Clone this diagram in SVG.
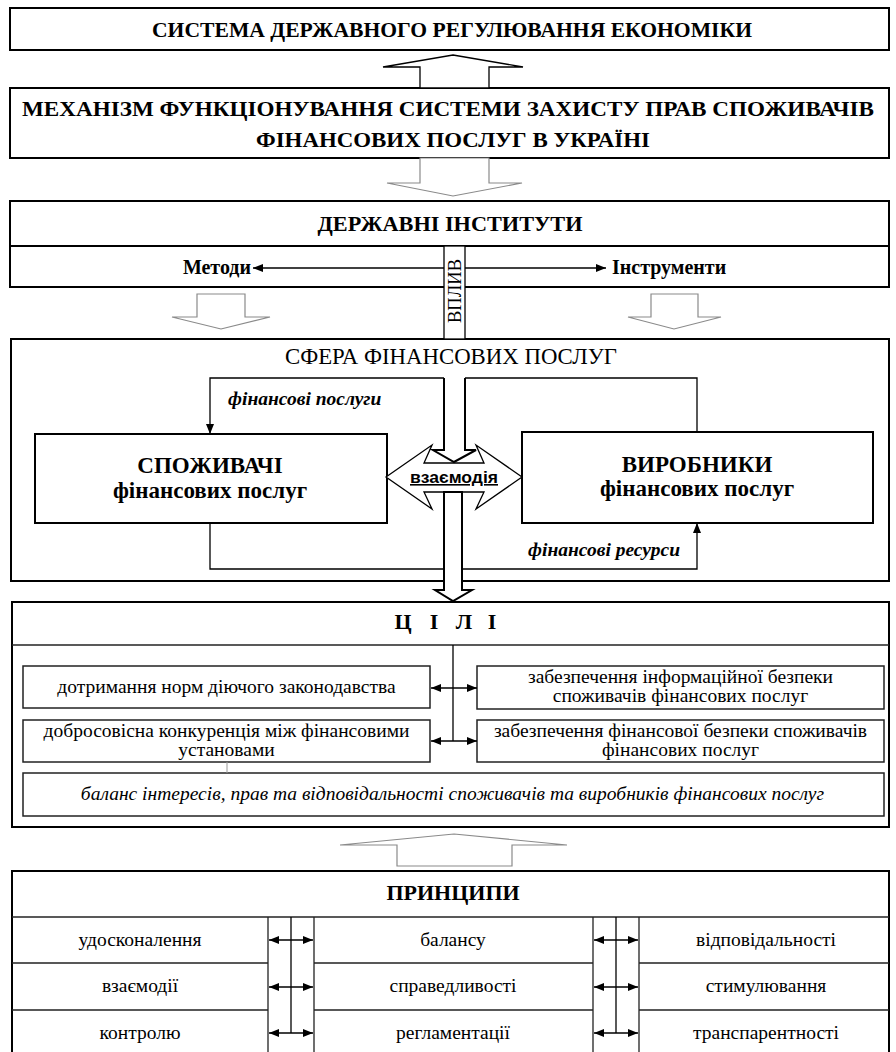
<svg xmlns="http://www.w3.org/2000/svg" width="896" height="1052" viewBox="0 0 896 1052">
<defs>
<marker id="ah" markerWidth="10" markerHeight="8" refX="10" refY="4" orient="auto-start-reverse" markerUnits="userSpaceOnUse"><path d="M0,0 L10,4 L0,8 Z" fill="#000"/></marker>
</defs>
<style>
text{font-family:"Liberation Serif","DejaVu Serif","Times New Roman",serif;fill:#000}
.box{fill:#fff;stroke:#000;stroke-width:2}
.ibox{fill:#fff;stroke:#222;stroke-width:1.5}
.ln{fill:none;stroke:#000;stroke-width:1.3}
.grid{fill:none;stroke:#222;stroke-width:1.3}
.blk{fill:#fff;stroke:#000;stroke-width:1.3}
.blk2{fill:#fff;stroke:#000;stroke-width:2}
.gray{fill:#fff;stroke:#8a8a8a;stroke-width:1.2}
.hb{font-weight:bold;font-size:22px;text-anchor:middle}
.t{font-size:19.5px;text-anchor:middle}
.ti{font-size:19.5px;font-style:italic;text-anchor:middle}
.bi{font-size:19.5px;font-style:italic;font-weight:bold}
.b{font-size:20px;font-weight:bold}
.nb{font-weight:bold;font-size:23px;text-anchor:middle}
</style>
<rect x="0" y="0" width="896" height="1052" fill="#fff"/>

<g id="system">
<rect class="box" x="10" y="8" width="879" height="42"/>
<text class="hb" x="452" y="37" textLength="600" lengthAdjust="spacingAndGlyphs">СИСТЕМА ДЕРЖАВНОГО РЕГУЛЮВАННЯ ЕКОНОМІКИ</text>
</g>

<g id="mechanism">
<rect class="box" x="10" y="88" width="879" height="70"/>
<text class="hb" x="448" y="116" textLength="852" lengthAdjust="spacingAndGlyphs">МЕХАНІЗМ ФУНКЦІОНУВАННЯ СИСТЕМИ ЗАХИСТУ ПРАВ СПОЖИВАЧІВ</text>
<text class="hb" x="453" y="147" textLength="394" lengthAdjust="spacingAndGlyphs">ФІНАНСОВИХ ПОСЛУГ В УКРАЇНІ</text>
</g>

<g id="institutions">
<rect class="box" x="10" y="201" width="879" height="45"/>
<text class="hb" x="450" y="231" textLength="265" lengthAdjust="spacingAndGlyphs">ДЕРЖАВНІ ІНСТИТУТИ</text>
<rect class="box" x="10" y="246" width="879" height="41"/>
<text class="b" x="251" y="274" text-anchor="end">Методи</text>
<text class="b" x="612" y="274">Інструменти</text>
</g>

<g id="sphere">
<rect class="box" x="11" y="339" width="878" height="242"/>
<text x="451" y="364" font-size="22.5" text-anchor="middle" textLength="332" lengthAdjust="spacingAndGlyphs">СФЕРА ФІНАНСОВИХ ПОСЛУГ</text>
</g>

<g id="consumers">
<rect class="box" x="35" y="434" width="352" height="89"/>
<text class="nb" x="210" y="473">СПОЖИВАЧІ</text>
<text class="nb" x="210" y="498">фінансових послуг</text>
</g>

<g id="producers">
<rect class="box" x="522" y="432" width="351" height="91"/>
<text class="nb" x="697" y="472">ВИРОБНИКИ</text>
<text class="nb" x="697" y="496">фінансових послуг</text>
</g>

<g id="goals">
<rect class="box" x="12" y="602" width="877" height="225"/>
<line class="grid" x1="12" y1="645" x2="889" y2="645"/>
<text class="hb" x="403" y="629">Ц</text>
<text class="hb" x="434" y="629">І</text>
<text class="hb" x="464" y="629">Л</text>
<text class="hb" x="492" y="629">І</text>
</g>
<g id="goal-law">
<rect class="ibox" x="23" y="666" width="407" height="42"/>
<text class="t" x="226.5" y="693">дотримання норм діючого законодавства</text>
</g>
<g id="goal-competition">
<rect class="ibox" x="23" y="720" width="407" height="42"/>
<text class="t" x="226.5" y="737">добросовісна конкуренція між фінансовими</text>
<text class="t" x="226.5" y="756">установами</text>
</g>
<g id="goal-info">
<rect class="ibox" x="477" y="666" width="407" height="43"/>
<text class="t" x="680.5" y="683">забезпечення інформаційної безпеки</text>
<text class="t" x="680.5" y="702">споживачів фінансових послуг</text>
</g>
<g id="goal-fin">
<rect class="ibox" x="477" y="720" width="407" height="42"/>
<text class="t" x="680.5" y="737">забезпечення фінансової безпеки споживачів</text>
<text class="t" x="680.5" y="756">фінансових послуг</text>
</g>
<g id="goal-balance">
<rect class="ibox" x="23" y="773" width="861" height="43"/>
<text class="ti" x="452.5" y="800">баланс інтересів, прав та відповідальності споживачів та виробників фінансових послуг</text>
</g>

<g id="principles">
<rect class="box" x="12" y="871" width="877" height="200"/>
<line class="grid" x1="12" y1="917" x2="889" y2="917"/>
<text class="hb" x="453" y="900">ПРИНЦИПИ</text>
<path class="grid" d="M12,963 H268 M314,963 H593 M639,963 H889 M12,1010 H268 M314,1010 H593 M639,1010 H889 M268,917 V1060 M314,917 V1060 M593,917 V1060 M639,917 V1060"/>
<text class="t" x="140" y="946">удосконалення</text>
<text class="t" x="140" y="992">взаємодії</text>
<text class="t" x="140" y="1039">контролю</text>
<text class="t" x="453" y="946">балансу</text>
<text class="t" x="453" y="992">справедливості</text>
<text class="t" x="453" y="1039">регламентації</text>
<text class="t" x="766" y="946">відповідальності</text>
<text class="t" x="766" y="992">стимулювання</text>
<text class="t" x="766" y="1039">транспарентності</text>
</g>

<g id="connectors">
<polygon class="blk" points="453,55 523,67 489,67 489,88 420,88 420,67 383,67"/>
<polygon class="gray" points="420,158 489,158 489,183 522,183 453,196 387,183 420,183"/>
<polygon class="gray" points="197,294 245,294 245,317 270,317 221,329 172,317 197,317"/>
<polygon class="gray" points="651,294 698,294 698,317 721,317 674,329 628,317 651,317"/>
<line class="ln" x1="444" y1="268" x2="253" y2="268" marker-end="url(#ah)"/>
<line class="ln" x1="465" y1="268" x2="606" y2="268" marker-end="url(#ah)"/>
<rect class="blk" x="444" y="246" width="21" height="93"/>
<text x="0" y="0" transform="translate(461,291) rotate(-90)" font-size="18.5" text-anchor="middle">ВПЛИВ</text>

<path class="ln" d="M444,378 H210 V434" marker-end="url(#ah)"/>
<path class="ln" d="M465,378 H697 V432"/>
<path class="ln" d="M210,523 V569 H697 V523" marker-end="url(#ah)"/>
<text class="bi" x="228" y="405">фінансові послуги</text>
<text class="bi" x="528" y="556">фінансові ресурси</text>

<polygon class="blk" points="386,477 432,445 424,463 484,463 476,445 522,477 476,509 484,492 424,492 432,509"/>
<path class="blk2" d="M444,378 V450 H433 L454,462 L476,450 H465 V378"/>
<polygon class="blk2" points="444,492 462,492 462,590 472,590 453,601 435,590 444,590"/>
<text x="454" y="483" style="font-family:'Liberation Sans',Arial,sans-serif" font-weight="bold" font-size="16" text-anchor="middle" text-decoration="underline" textLength="88" lengthAdjust="spacingAndGlyphs">взаємодія</text>

<line class="ln" x1="453" y1="645" x2="453" y2="741"/>
<line class="ln" x1="431" y1="688" x2="477" y2="688" marker-start="url(#ah)" marker-end="url(#ah)"/>
<line class="ln" x1="431" y1="741" x2="477" y2="741" marker-start="url(#ah)" marker-end="url(#ah)"/>
<line x1="227" y1="762" x2="227" y2="773" stroke="#999" stroke-width="1"/>

<polygon class="gray" points="454,834 567,845 512,845 512,866 397,866 397,845 340,845"/>

<line class="ln" x1="291" y1="917" x2="291" y2="1033"/>
<line class="ln" x1="616" y1="917" x2="616" y2="1033"/>
<line class="ln" x1="269" y1="940" x2="313" y2="940" marker-start="url(#ah)" marker-end="url(#ah)"/>
<line class="ln" x1="269" y1="987" x2="313" y2="987" marker-start="url(#ah)" marker-end="url(#ah)"/>
<line class="ln" x1="269" y1="1033" x2="313" y2="1033" marker-start="url(#ah)" marker-end="url(#ah)"/>
<line class="ln" x1="594" y1="940" x2="638" y2="940" marker-start="url(#ah)" marker-end="url(#ah)"/>
<line class="ln" x1="594" y1="987" x2="638" y2="987" marker-start="url(#ah)" marker-end="url(#ah)"/>
<line class="ln" x1="594" y1="1033" x2="638" y2="1033" marker-start="url(#ah)" marker-end="url(#ah)"/>
</g>
</svg>
